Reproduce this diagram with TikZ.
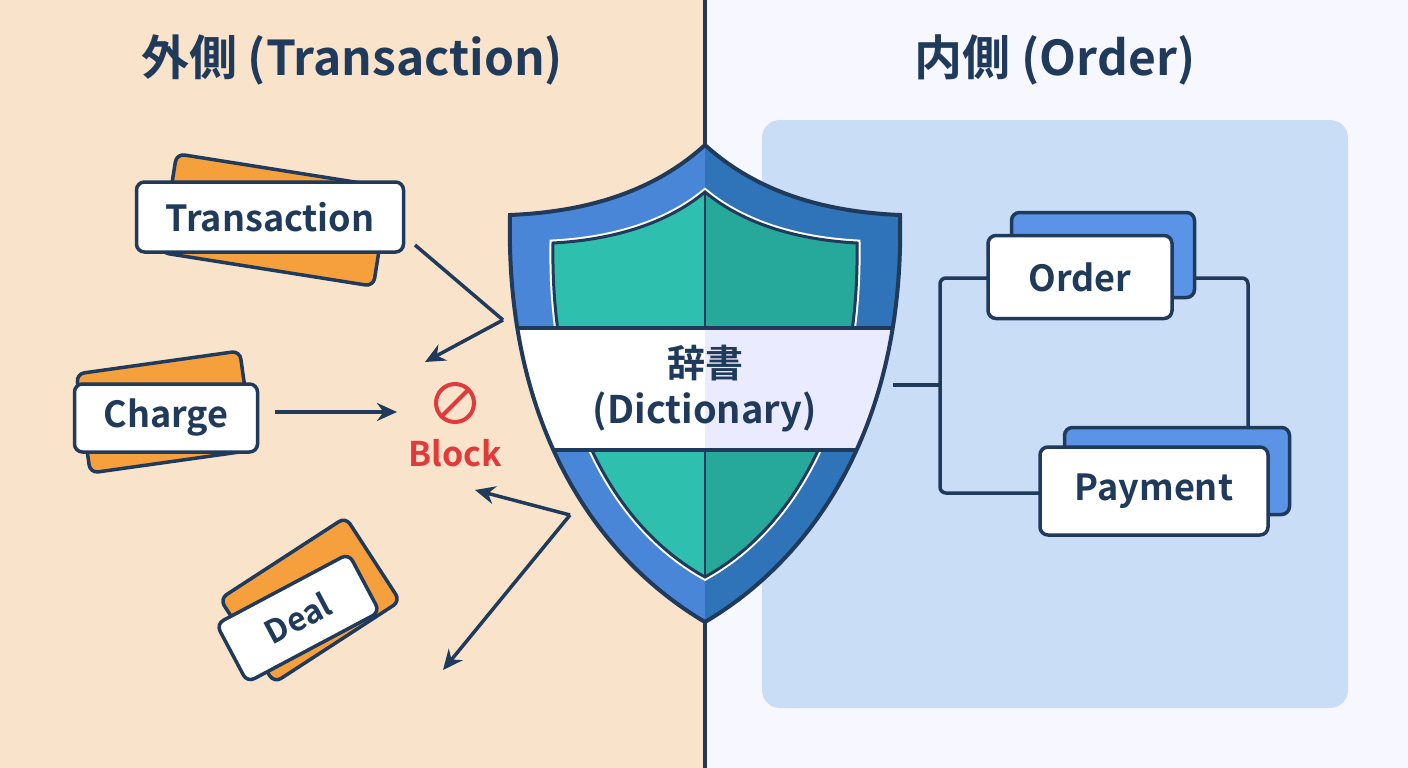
\documentclass[tikz,border=0pt]{standalone}
\usetikzlibrary{arrows.meta}
\usepackage{fontspec}
\newfontfamily\cjk{Noto Sans CJK JP}[BoldFont={* Bold}]
\definecolor{navy}{HTML}{1F3A5A}
\definecolor{peach}{HTML}{FAE3CB}
\definecolor{panel}{HTML}{C9DDF7}
\definecolor{orng}{HTML}{F5A03C}
\definecolor{bcard}{HTML}{5B93E6}
\definecolor{sb1}{HTML}{4A86D8}
\definecolor{sb2}{HTML}{2F74B8}
\definecolor{tl1}{HTML}{2EBFAE}
\definecolor{tl2}{HTML}{26A89A}
\definecolor{redb}{HTML}{E03A3A}
\begin{document}
\begin{tikzpicture}[x=1pt,y=-1pt,
  lbl/.style={draw=navy,fill=white,line width=3.5pt,rounded corners=8pt,font=\cjk\bfseries\fontsize{36}{40}\selectfont,text=navy,inner sep=0pt},
  ocard/.style={draw=navy,fill=orng,line width=3.5pt,rounded corners=8pt,inner sep=0pt},
  bc/.style={draw=navy,fill=bcard,line width=3.5pt,rounded corners=8pt,inner sep=0pt},
  arr/.style={draw=navy,line width=3.5pt,-{Stealth[length=20pt,width=18pt]}},
  ln/.style={draw=navy,line width=3.5pt}]
\useasboundingbox (0,0) rectangle (1408,768);
\fill[peach] (0,0) rectangle (705,768);
\fill[white!97!blue] (705,0) rectangle (1408,768);
\draw[navy,line width=4pt] (705,0) -- (705,768);
\node[font=\cjk\bfseries\fontsize{48}{54}\selectfont,text=navy] (t1) at (352,60) {外側 (Transaction)};
\node[font=\cjk\bfseries\fontsize{48}{54}\selectfont,text=navy] (t2) at (1055,60) {内側 (Order)};
\fill[panel,rounded corners=18pt] (762,120) rectangle (1348,708);
% cards left
\node[ocard,minimum width=215pt,minimum height=100pt,rotate=-9] (o1) at (275,220) {};
\node[lbl,minimum width=267pt,minimum height=70pt] (tr) at (270,217) {Transaction};
\node[ocard,minimum width=165pt,minimum height=100pt,rotate=8] (o2) at (165,412) {};
\node[lbl,minimum width=183pt,minimum height=68pt] (ch) at (166,418) {Charge};
\node[ocard,minimum width=150pt,minimum height=100pt,rotate=33] (o3) at (310,600) {};
\node[lbl,minimum width=150pt,minimum height=66pt,rotate=28,font=\cjk\bfseries\fontsize{32}{36}\selectfont] (de) at (298,618) {Deal};
% block
\node[circle,draw=redb,line width=4pt,minimum size=38pt,inner sep=0pt] (bi) at (455,403) {};
\draw[redb,line width=4pt] (bi.north east) -- (bi.south west);
\node[font=\cjk\bfseries\fontsize{34}{38}\selectfont,text=redb] (bl) at (455,453) {Block};
% arrows
\coordinate (a1) at (415,245); \coordinate (a2) at (503,320); \coordinate (a3) at (425,362);
\draw[ln] (a1) -- (a2); \draw[arr] (a2) -- (a3);
\coordinate (c1) at (275,412); \coordinate (c2) at (397,412);
\draw[arr] (c1) -- (c2);
\coordinate (d0) at (570,515); \coordinate (d1) at (475,490); \coordinate (d2) at (443,670);
\draw[arr] (d0) -- (d1); \draw[arr] (d0) -- (d2);
% shield
\def\outer{(705,145) .. controls (650,195) and (580,212) .. (510,215) .. controls (505,430) and (600,560) .. (705,622) .. controls (810,560) and (905,430) .. (900,215) .. controls (830,212) and (760,195) .. (705,145) -- cycle}
\def\inner{(705,192) .. controls (665,225) and (610,240) .. (553,243) .. controls (550,420) and (620,530) .. (705,577) .. controls (790,530) and (860,420) .. (857,243) .. controls (800,240) and (745,225) .. (705,192) -- cycle}
\fill[sb1] \outer;
\begin{scope}\clip (705,0) rectangle (950,700); \fill[sb2] \outer; \end{scope}
\draw[white,line width=7pt] \inner;
\fill[tl1] \inner;
\begin{scope}\clip (705,0) rectangle (950,700); \fill[tl2] \inner; \end{scope}
\draw[navy,line width=3pt] \inner;
\draw[navy,line width=2pt] (705,192) -- (705,577);
\begin{scope}\clip \outer;
 \fill[white] (500,328) rectangle (705,450);
 \fill[blue!8!white] (705,328) rectangle (910,450);
 \draw[navy,line width=3.5pt] (500,328) -- (910,328) (500,450) -- (910,450);
\end{scope}
\draw[navy,line width=4pt] \outer;
\node[font=\cjk\bfseries\fontsize{38}{46}\selectfont,text=navy,align=center] (dict) at (705,389) {辞書\\(Dictionary)};
% right
\coordinate (s1) at (893,385); \coordinate (j) at (940,385);
\coordinate (k) at (1248,278);
\draw[ln] (s1) -- (j);
\draw[ln,rounded corners=6pt] (990,278) -| (j) |- (1042,493);
\draw[ln,rounded corners=6pt] (1170,278) -| (1248,432);
\node[bc,minimum width=183pt,minimum height=85pt] (ob) at (1103,255) {};
\node[lbl,minimum width=184pt,minimum height=83pt] (or) at (1080,277) {Order};
\node[bc,minimum width=225pt,minimum height=87pt] (pb) at (1177,471) {};
\node[lbl,minimum width=228pt,minimum height=88pt] (pa) at (1154,491) {Payment};
\end{tikzpicture}
\end{document}
